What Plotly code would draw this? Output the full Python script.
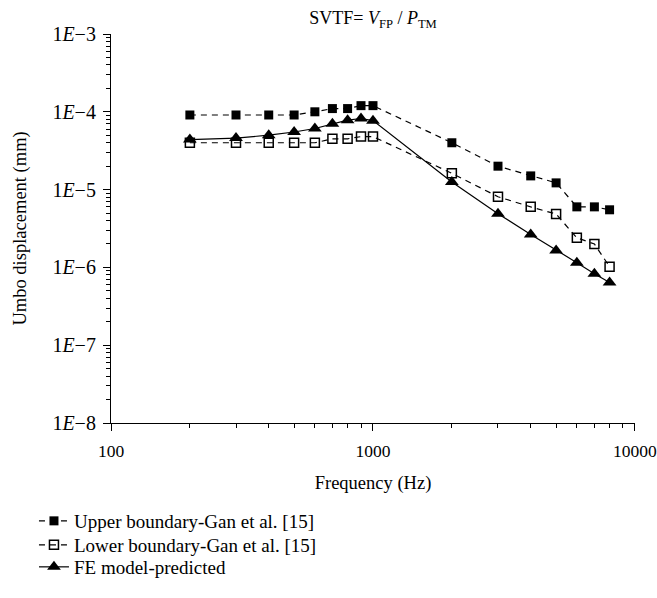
import plotly.graph_objects as go

freq = [200, 300, 400, 500, 600, 700, 800, 900, 1000, 2000, 3000, 4000, 5000, 6000, 7000, 8000]
upper = [9.1e-5, 9.1e-5, 9.1e-5, 9.1e-5, 1.0e-4, 1.1e-4, 1.1e-4, 1.2e-4, 1.2e-4, 4.0e-5, 2.0e-5, 1.5e-5, 1.22e-5, 6.0e-6, 6.0e-6, 5.5e-6]
lower = [4.0e-5, 4.0e-5, 4.0e-5, 4.0e-5, 4.0e-5, 4.5e-5, 4.5e-5, 4.8e-5, 4.8e-5, 1.62e-5, 8.1e-6, 6.0e-6, 4.85e-6, 2.4e-6, 2.0e-6, 1.02e-6]
fe = [4.4e-5, 4.6e-5, 5.0e-5, 5.5e-5, 6.1e-5, 7.0e-5, 7.8e-5, 8.2e-5, 7.7e-5, 1.25e-5, 4.9e-6, 2.65e-6, 1.65e-6, 1.15e-6, 8.3e-7, 6.4e-7]

names = ["Upper boundary-Gan et al. [15]", "Lower boundary-Gan et al. [15]", "FE model-predicted"]
ytickvals = [1e-8, 1e-7, 1e-6, 1e-5, 1e-4, 1e-3]
yticktext = ["1<i>E</i>−8", "1<i>E</i>−7", "1<i>E</i>−6", "1<i>E</i>−5", "1<i>E</i>−4", "1<i>E</i>−3"]
xtickvals = [100, 1000, 10000]
xticktext = ["100", "1000", "10000"]

FONT = "Liberation Serif"

L, T, PW, PH = 111, 34, 524, 389
W, H = 657, 598

fig = go.Figure()
fig.add_trace(go.Scatter(x=freq, y=upper, name=names[0], mode="lines+markers", legend="legend",
                         line=dict(color="black", width=1.2, dash="6px,5px"),
                         marker=dict(symbol="square", size=9, color="black")))
fig.add_trace(go.Scatter(x=freq, y=lower, name=names[1], mode="lines+markers", legend="legend2",
                         line=dict(color="black", width=1.2, dash="6px,5px"),
                         marker=dict(symbol="square-open", size=9, color="black", line=dict(width=1.5))))
fig.add_trace(go.Scatter(x=freq, y=fe, name=names[2], mode="lines+markers", legend="legend3",
                         line=dict(color="black", width=1.2),
                         marker=dict(symbol="triangle-up", size=12, color="black")))

minor_y = [m * 10.0 ** e for e in range(-8, -3) for m in range(2, 10)]
minor_x = [m * 10.0 ** e for e in range(2, 4) for m in range(2, 10)]

def leg(ypix):
    return dict(x=-0.147, y=(T + PH - ypix) / PH, xanchor="left", yanchor="middle",
                font=dict(family=FONT, size=19), bgcolor="rgba(0,0,0,0)",
                itemsizing="trace")

fig.update_layout(
    width=W, height=H,
    paper_bgcolor="white", plot_bgcolor="white",
    font=dict(family=FONT, size=19, color="black"),
    margin=dict(l=L, r=W - L - PW, t=T, b=H - T - PH, autoexpand=False),
    title=dict(text="SVTF= <i>V</i><sub>FP</sub> / <i>P</i><sub>TM</sub>",
               x=(L + PW / 2) / W, xanchor="center",
               y=1 - 18 / H, yanchor="middle",
               font=dict(family=FONT, size=18)),
    showlegend=True,
    legend=leg(521),
    legend2=leg(545),
    legend3=leg(567),
    annotations=[dict(text="Umbo displacement (mm)", xref="paper", yref="paper",
                      x=(20 - L) / PW, y=0.5, xanchor="center", yanchor="middle",
                      textangle=-90, showarrow=False, font=dict(family=FONT, size=18.5))],
)
fig.update_xaxes(type="log", range=[2, 4.0001], tickvals=xtickvals, ticktext=xticktext,
                 showline=True, linecolor="black", linewidth=1.2, showgrid=False,
                 ticks="outside", ticklen=7, tickcolor="black", zeroline=False,
                 ticklabelstandoff=5, automargin=False, ticklabeloverflow="allow",
                 tickfont=dict(size=17.5),
                 minor=dict(tickvals=minor_x, ticks="outside", ticklen=4, tickcolor="black", showgrid=False),
                 title=dict(text="Frequency (Hz)", standoff=15, font=dict(size=18.5)))
fig.update_yaxes(type="log", range=[-8, -3], tickvals=ytickvals, ticktext=yticktext,
                 showline=True, linecolor="black", linewidth=1.2, showgrid=False,
                 ticks="outside", ticklen=7, tickcolor="black", zeroline=False,
                 ticklabelstandoff=3, automargin=False,
                 tickfont=dict(size=20),
                 minor=dict(tickvals=minor_y, ticks="outside", ticklen=4, tickcolor="black", showgrid=False))

# remove the default 8px page margin so the 657x598 figure fills the window exactly
fig.write_html("out.html", config={"displayModeBar": False},
               post_script="document.body.style.margin='0';document.body.style.overflow='hidden';")
